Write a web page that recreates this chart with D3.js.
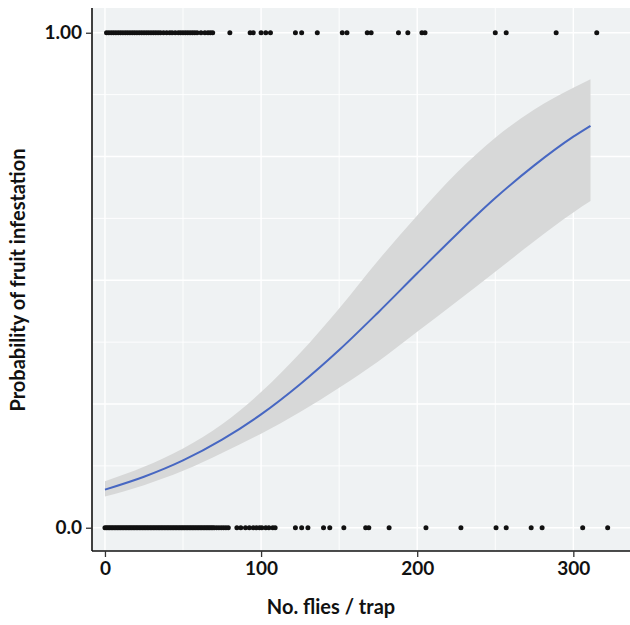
<!DOCTYPE html>
<html>
<head>
<meta charset="utf-8">
<script src="https://cdn.jsdelivr.net/npm/d3@7"></script>
<style>
  body { margin: 0; background: #fff; }
  text { font-family: Lato, "Open Sans", sans-serif; font-weight: bold; fill: #111; }
</style>
</head>
<body>
<svg id="chart" width="630" height="625"></svg>
<script>
// fitted curve and 95% band
const fitX   = [0, 25, 50, 75, 100, 125, 150, 175, 200, 225, 250, 275, 300, 311];
const fitP   = [0.077, 0.103, 0.136, 0.178, 0.229, 0.290, 0.359, 0.435, 0.514, 0.592, 0.666, 0.732, 0.790, 0.812];
const fitLow = [0.063, 0.086, 0.115, 0.151, 0.190, 0.234, 0.283, 0.336, 0.396, 0.456, 0.517, 0.579, 0.637, 0.660];
const fitHigh= [0.094, 0.123, 0.160, 0.209, 0.274, 0.353, 0.443, 0.540, 0.631, 0.716, 0.788, 0.845, 0.889, 0.906];

// traps with infested fruit (1) and without (0)
const infested = [1, 2.5, 4, 5.5, 7, 8.5, 10, 11.5, 13, 14.5, 16, 17.5, 19, 20.5, 22, 23.5, 25, 26.5, 28, 29.5,
  31, 32.5, 34, 35.5, 37.5, 39.5, 41.5, 43, 45, 47, 48.5, 50, 51.5, 53, 54.5, 56, 57.5, 59, 61.5, 64, 66, 67.5, 69,
  80, 93, 95, 100, 103, 106, 122, 126, 136, 152, 155, 168, 170.5, 188, 194, 203, 205, 250, 257, 289, 315];
const clean = [0, 1, 2, 3, 4, 5, 6, 7, 8, 9, 10, 11, 12, 13, 14, 15, 16, 17, 18, 19, 20, 21, 22, 23, 24, 25, 26, 27,
  28, 29, 30, 31, 32, 33, 34, 35, 36, 37, 38, 39, 40, 41, 42, 43, 44, 45, 46, 47, 48, 49, 50, 51, 52, 53, 54, 55,
  56, 57, 58, 59, 60, 61, 62, 63, 64, 65, 66, 67, 68, 69, 70, 71.5, 73, 74.5, 76, 77.5, 79,
  84.5, 87, 90, 92.5, 95, 97, 99, 100.5, 103, 105, 107.5, 109, 122, 126, 130, 140, 144, 153, 167, 169, 182,
  205.6, 228, 250.5, 257, 273, 280, 306, 322];

const xTicks = [0, 100, 200, 300];
const xMinor = [50, 150, 250];
const yTicks = [0, 1];
const yTickLabels = ["0.0", "1.00"];
const yGrid = [0, 0.125, 0.25, 0.375, 0.5, 0.625, 0.75, 0.875, 1];

let svg = d3.select("#chart");
let padL = 92, padR = 630, padT = 8, padB = 551;

let x = d3.scaleLinear().domain([-8.3, 336.3]).range([padL, padR]);
let y = d3.scaleLinear().domain([-0.047, 1.05]).range([padB, padT]);

//panel
svg.append("rect")
  .attr("x", padL).attr("y", padT)
  .attr("width", padR - padL).attr("height", padB - padT)
  .attr("fill", "#eff2f3");

//grid
svg.append("g").selectAll("line")
  .data(yGrid).enter().append("line")
  .attr("x1", padL).attr("x2", padR)
  .attr("y1", d => y(d)).attr("y2", d => y(d))
  .attr("stroke", "#fff").attr("stroke-width", d => (d * 4) % 1 === 0 ? 1.4 : 0.9);
svg.append("g").selectAll("line")
  .data(xTicks.concat(xMinor)).enter().append("line")
  .attr("y1", padT).attr("y2", padB)
  .attr("x1", d => x(d)).attr("x2", d => x(d))
  .attr("stroke", "#fff").attr("stroke-width", d => d % 100 === 0 ? 1.4 : 0.9);

//band and line
let fit = fitX.map((d, i) => ({x: d, p: fitP[i], lo: fitLow[i], hi: fitHigh[i]}));
svg.append("path")
  .datum(fit)
  .attr("fill", "#d7d8d8")
  .attr("d", d3.area().curve(d3.curveMonotoneX).x(d => x(d.x)).y0(d => y(d.lo)).y1(d => y(d.hi)));
svg.append("path")
  .datum(fit)
  .attr("fill", "none")
  .attr("stroke", "#4767c2")
  .attr("stroke-width", 2)
  .attr("d", d3.line().curve(d3.curveMonotoneX).x(d => x(d.x)).y(d => y(d.p)));

//points
svg.append("g").selectAll("circle")
  .data(infested.map(d => [d, 1]).concat(clean.map(d => [d, 0])))
  .enter().append("circle")
  .attr("cx", d => x(d[0])).attr("cy", d => y(d[1]))
  .attr("r", 2.5).attr("fill", "#111");

//axes
let xAxis = svg.append("g")
  .attr("transform", "translate(0," + padB + ")")
  .call(d3.axisBottom(x).tickValues(xTicks).tickSize(6).tickPadding(5).tickFormat(d3.format("d")));
let yAxis = svg.append("g")
  .attr("transform", "translate(" + padL + ",0)")
  .call(d3.axisLeft(y).tickValues(yTicks).tickSize(6).tickPadding(4).tickFormat((d, i) => yTickLabels[i]));
[xAxis, yAxis].forEach(a => {
  a.select(".domain").attr("stroke", "#111").attr("stroke-width", 1.6);
  a.selectAll(".tick line").attr("stroke", "#333").attr("stroke-width", 1.3);
  a.selectAll("text").attr("font-size", 19).attr("font-family", "Lato, sans-serif").attr("font-weight", "bold").attr("fill", "#111");
});
xAxis.select(".domain").attr("d", "M" + padL + ",0H" + padR);
yAxis.select(".domain").attr("d", "M0," + padT + "V" + padB);

//titles
svg.append("text")
  .attr("x", 331).attr("y", 614)
  .attr("text-anchor", "middle").attr("font-size", 20)
  .text("No. flies / trap");
svg.append("text")
  .attr("transform", "translate(25,280) rotate(-90)")
  .attr("text-anchor", "middle").attr("font-size", 20)
  .text("Probability of fruit infestation");
</script>
</body>
</html>
